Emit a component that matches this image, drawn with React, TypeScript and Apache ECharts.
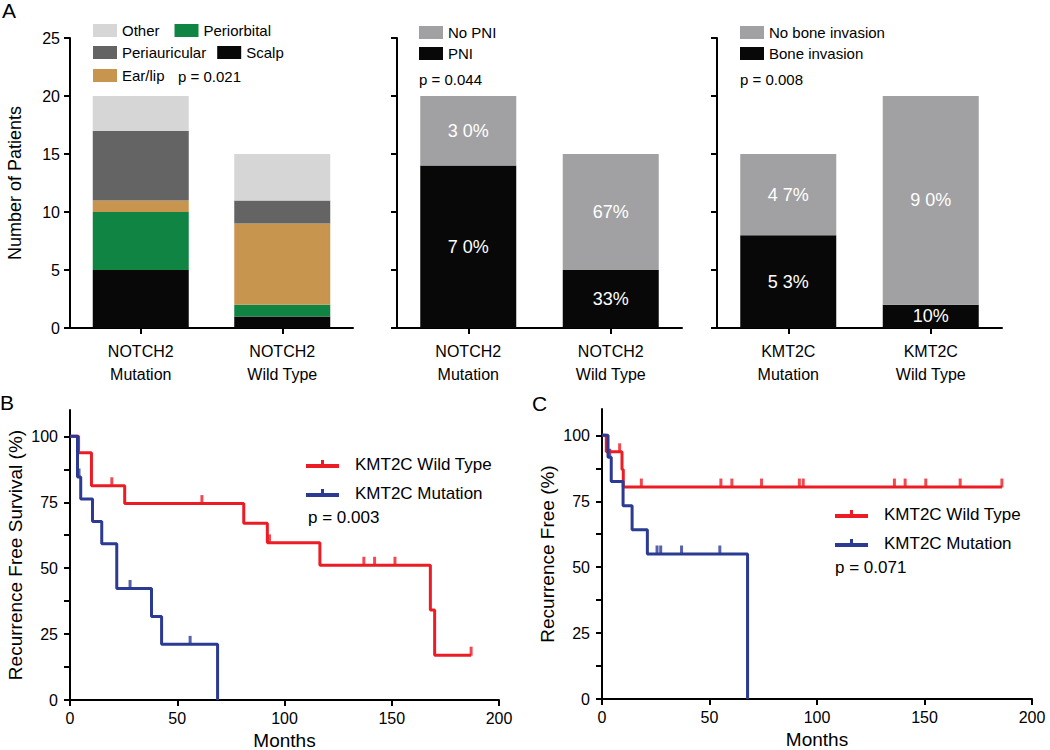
import React, { useEffect, useRef } from "react";
import * as echarts from "echarts";

const FONT = "'Liberation Sans', Arial, Helvetica, sans-serif";

// ---------- Panel A (left): tumour site ----------
const siteCategories = ["NOTCH2\nMutation", "NOTCH2\nWild Type"];
const siteScalp = [5, 1];
const sitePeriorbital = [5, 1];
const siteEarLip = [1, 7];
const sitePeriauricular = [6, 2];
const siteOther = [3, 4];

// ---------- Panel A (middle): perineural invasion ----------
const pniCategories = ["NOTCH2\nMutation", "NOTCH2\nWild Type"];
const pniYes = [14, 5];
const pniNo = [6, 10];
const pniYesLabels = ["7 0%", "33%"];
const pniNoLabels = ["3 0%", "67%"];

// ---------- Panel A (right): bone invasion ----------
const boneCategories = ["KMT2C\nMutation", "KMT2C\nWild Type"];
const boneYes = [8, 2];
const boneNo = [7, 18];
const boneYesLabels = ["5 3%", "10%"];
const boneNoLabels = ["4 7%", "9 0%"];

// ---------- Panel B: recurrence free survival ----------
const bWildTimes = [0, 4, 10, 25.5, 81, 92, 116.5, 168, 170, 187];
const bWildSurv = [100, 93.75, 81.25, 74.5, 67.0, 59.6, 51.1, 34.1, 17.0, 17.0];
const bWildCensor = [19.5, 61.5, 93, 137, 142, 151.5, 187];
const bMutTimes = [0, 3.5, 5, 10.5, 14.8, 21.8, 38, 42.7, 68.8];
const bMutSurv = [100, 84.6, 76.2, 67.7, 59.3, 42.3, 31.7, 21.1, 0];
const bMutCensor = [4.2, 28, 56];

// ---------- Panel C: recurrence free ----------
const cWildTimes = [0, 2, 9.3, 9.9, 186];
const cWildSurv = [100, 93.75, 87.05, 80.4, 80.4];
const cWildCensor = [8.2, 18.3, 55.3, 60.4, 74.2, 91.8, 93.6, 136, 141, 150.6, 166.6, 186];
const cMutTimes = [0, 2.8, 4.3, 9.8, 14, 21.1, 67.7];
const cMutSurv = [100, 91.7, 82.5, 73.3, 64.2, 55.0, 0];
const cMutCensor = [3.6, 25.6, 27.3, 37, 54.8];

const kmTickValues = [0, 12.5, 25, 37.5, 50, 62.5, 75, 87.5, 100];
const kmLabelValues = [0, 25, 50, 75, 100];

const RED = "#ec1c24";
const BLUE = "#2b3a92";

function survAt(times: number[], surv: number[], t: number) {
  let v = surv[0];
  for (let i = 0; i < times.length; i++) if (times[i] <= t) v = surv[i];
  return v;
}

const axisLine = { show: true, lineStyle: { color: "#000", width: 2 } };
const axisTick = { show: true, length: 6, lineStyle: { color: "#000", width: 2 } };

function catAxis(grid: number, data: string[]) {
  return {
    type: "category",
    gridIndex: grid,
    data,
    axisLine,
    axisTick: { ...axisTick, alignWithLabel: true },
    axisLabel: { color: "#000", fontSize: 16, lineHeight: 23, margin: 12, fontFamily: FONT },
    splitLine: { show: false },
  };
}

function countAxis(grid: number, showLabels: boolean) {
  return {
    type: "value",
    gridIndex: grid,
    min: 0,
    max: 25,
    interval: 5,
    axisLine,
    axisTick,
    axisLabel: { show: showLabels, color: "#000", fontSize: 16, margin: 10, fontFamily: FONT },
    splitLine: { show: false },
    name: showLabels ? "Number of Patients" : "",
    nameLocation: "middle",
    nameGap: 46,
    nameTextStyle: { color: "#000", fontSize: 18, fontFamily: FONT },
  };
}

function monthAxis(grid: number) {
  return {
    type: "value",
    gridIndex: grid,
    min: 0,
    max: 200,
    interval: 50,
    axisLine,
    axisTick,
    axisLabel: { color: "#000", fontSize: 16, margin: 10, fontFamily: FONT },
    splitLine: { show: false },
    name: "Months",
    nameLocation: "middle",
    nameGap: 31,
    nameTextStyle: { color: "#000", fontSize: 19, fontFamily: FONT },
  };
}

function pctAxis(grid: number, name: string) {
  return {
    type: "value",
    gridIndex: grid,
    min: 0,
    max: 110,
    axisLine,
    axisTick: { ...axisTick, customValues: kmTickValues },
    axisLabel: { color: "#000", fontSize: 16, margin: 12, fontFamily: FONT, customValues: kmLabelValues },
    splitLine: { show: false },
    name,
    nameLocation: "middle",
    nameGap: 45,
    nameTextStyle: { color: "#000", fontSize: 19, fontFamily: FONT },
  };
}

function barSeries(name: string, grid: number, data: number[], color: string, labels?: string[]) {
  return {
    type: "bar",
    name,
    xAxisIndex: grid,
    yAxisIndex: grid,
    stack: "s" + grid,
    data,
    barWidth: 96,
    itemStyle: { color },
    label: labels
      ? {
          show: true,
          position: "inside",
          color: "#fff",
          fontSize: 18,
          fontFamily: FONT,
          formatter: (p: any) => labels[p.dataIndex],
        }
      : { show: false },
  };
}

function kmLine(name: string, grid: number, times: number[], surv: number[], color: string) {
  return {
    type: "line",
    name,
    xAxisIndex: grid,
    yAxisIndex: grid,
    data: times.map((t, i) => [t, surv[i]]),
    step: "end",
    symbol: "none",
    showSymbol: false,
    itemStyle: { color },
    lineStyle: { color, width: 3 },
  };
}

function kmCensor(name: string, grid: number, times: number[], surv: number[], censor: number[], color: string) {
  return {
    type: "scatter",
    name,
    xAxisIndex: grid,
    yAxisIndex: grid,
    data: censor.map((t) => [t, survAt(times, surv, t)]),
    symbol: "rect",
    symbolSize: [3, 9],
    symbolOffset: [0, -4],
    itemStyle: { color },
  };
}

const rectLegend = (left: number, top: number, data: string[], orient: string, itemGap: number) => ({
  left,
  top,
  orient,
  data,
  padding: 0,
  itemGap,
  icon: "rect",
  itemWidth: 24,
  itemHeight: 13,
  selectedMode: false,
  textStyle: { color: "#000", fontSize: 15, fontFamily: FONT },
});

const KM_ICON = "path://M0,4h33v4H0z M15,0h3v4h-3z";
const kmLegend = (left: number, top: number) => ({
  left,
  top,
  orient: "vertical",
  data: ["KMT2C Wild Type", "KMT2C Mutation"],
  padding: 0,
  itemGap: 9,
  icon: KM_ICON,
  itemWidth: 33,
  itemHeight: 8,
  selectedMode: false,
  itemStyle: { borderWidth: 0 },
  textStyle: { color: "#000", fontSize: 17, lineHeight: 20, fontFamily: FONT, padding: [0, 0, 0, 11] },
});

const txt = (text: string, x: number, y: number, size: number) => ({
  type: "text",
  x,
  y,
  style: { text, fontSize: size, fontFamily: FONT, fill: "#000", verticalAlign: "middle", align: "left" },
});

function buildOption() {
  return {
    animation: false,
    backgroundColor: "#fff",
    textStyle: { fontFamily: FONT },
    grid: [
      { left: 70, top: 38, width: 283, height: 290, outerBoundsMode: "none" },
      { left: 397, top: 38, width: 285, height: 290, outerBoundsMode: "none" },
      { left: 717, top: 38, width: 285, height: 290, outerBoundsMode: "none" },
      { left: 70, top: 410, width: 429, height: 290, outerBoundsMode: "none" },
      { left: 602, top: 409, width: 430, height: 290, outerBoundsMode: "none" },
    ],
    xAxis: [
      catAxis(0, siteCategories),
      catAxis(1, pniCategories),
      catAxis(2, boneCategories),
      monthAxis(3),
      monthAxis(4),
    ],
    yAxis: [
      countAxis(0, true),
      countAxis(1, false),
      countAxis(2, false),
      pctAxis(3, "Recurrence Free Survival (%)"),
      pctAxis(4, "Recurrence Free (%)"),
    ],
    legend: [
      rectLegend(93, 23, ["Other", "Periorbital"], "horizontal", 15),
      rectLegend(93, 45, ["Periauricular", "Scalp"], "horizontal", 11),
      rectLegend(93, 68, ["Ear/lip"], "horizontal", 10),
      rectLegend(419, 25, ["No PNI", "PNI"], "vertical", 6),
      rectLegend(740, 25, ["No bone invasion", "Bone invasion"], "vertical", 6),
      kmLegend(306, 454),
      kmLegend(835, 504),
    ],
    series: [
      barSeries("Scalp", 0, siteScalp, "#080808"),
      barSeries("Periorbital", 0, sitePeriorbital, "#108442"),
      barSeries("Ear/lip", 0, siteEarLip, "#c8954f"),
      barSeries("Periauricular", 0, sitePeriauricular, "#646464"),
      barSeries("Other", 0, siteOther, "#d6d6d6"),
      barSeries("PNI", 1, pniYes, "#080808", pniYesLabels),
      barSeries("No PNI", 1, pniNo, "#a1a1a3", pniNoLabels),
      barSeries("Bone invasion", 2, boneYes, "#080808", boneYesLabels),
      barSeries("No bone invasion", 2, boneNo, "#a1a1a3", boneNoLabels),
      kmLine("KMT2C Wild Type", 3, bWildTimes, bWildSurv, RED),
      kmCensor("B wild censored", 3, bWildTimes, bWildSurv, bWildCensor, RED),
      kmLine("KMT2C Mutation", 3, bMutTimes, bMutSurv, BLUE),
      kmCensor("B mutation censored", 3, bMutTimes, bMutSurv, bMutCensor, BLUE),
      kmLine("KMT2C Wild Type", 4, cWildTimes, cWildSurv, RED),
      kmCensor("C wild censored", 4, cWildTimes, cWildSurv, cWildCensor, RED),
      kmLine("KMT2C Mutation", 4, cMutTimes, cMutSurv, BLUE),
      kmCensor("C mutation censored", 4, cMutTimes, cMutSurv, cMutCensor, BLUE),
    ],
    graphic: [
      txt("A", 2, 10, 21),
      txt("B", 0, 402, 21),
      txt("C", 532, 403, 21),
      txt("p = 0.021", 178, 76, 15),
      txt("p = 0.044", 419, 79, 15),
      txt("p = 0.008", 740, 79, 15),
      txt("p = 0.003", 308, 517, 17),
      txt("p = 0.071", 835, 567, 17),
    ],
  };
}

export default function App() {
  const ref = useRef<HTMLDivElement>(null);
  useEffect(() => {
    const chart = echarts.init(ref.current!, null, { renderer: "svg" });
    chart.setOption(buildOption() as any);
    return () => chart.dispose();
  }, []);
  return (
    <div
      ref={ref}
      style={{ position: "fixed", left: 0, top: 0, width: 1050, height: 750, background: "#fff" }}
    />
  );
}
